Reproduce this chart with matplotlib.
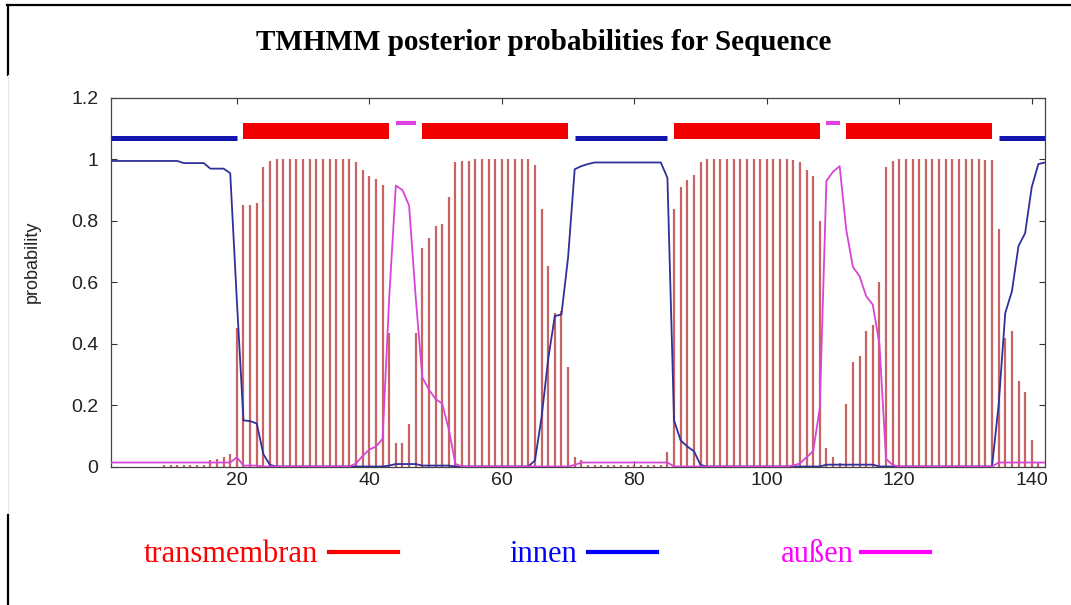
import matplotlib
matplotlib.use('Agg')
import matplotlib.pyplot as plt
from matplotlib.lines import Line2D

# ---------------- data ----------------
residues = list(range(1, 143))

tm_prob = ([0.0] * 8 + [0.005] * 7 +
           [0.02, 0.024, 0.03, 0.042, 0.45] +
           [0.85, 0.85, 0.857, 0.975, 0.995] +
           [1.0] * 12 +
           [0.99, 0.966, 0.946, 0.937, 0.917, 0.435] +
           [0.076, 0.078, 0.14, 0.435] +
           [0.713, 0.743, 0.783, 0.79, 0.878, 0.993, 0.996, 0.996] +
           [1.0] * 9 +
           [0.983, 0.84, 0.652, 0.50, 0.505, 0.325] +
           [0.03, 0.02] +
           [0.005] * 12 +
           [0.047] +
           [0.838, 0.909, 0.934, 0.949, 0.993] +
           [1.0] * 13 +
           [0.997, 0.993, 0.967, 0.945, 0.80] +
           [0.06, 0.03, 0.01] +
           [0.205, 0.34, 0.36, 0.44, 0.46, 0.60] +
           [0.974, 0.994] +
           [1.0] * 13 +
           [0.997, 0.997] +
           [0.772, 0.42, 0.44, 0.28, 0.243, 0.085, 0.01, 0.0])

inside_prob = ([0.995] * 11 + [0.988] * 4 + [0.97] * 3 +
               [0.955, 0.54] +
               [0.15, 0.148, 0.14, 0.04, 0.005] +
               [0.0] * 17 +
               [0.003] + [0.008] * 4 + [0.003] * 5 +
               [0.0] * 12 +
               [0.02, 0.16, 0.35, 0.49, 0.495, 0.68] +
               [0.968, 0.978, 0.985] +
               [0.99] * 11 +
               [0.94, 0.15, 0.085, 0.065, 0.05, 0.005] +
               [0.0] * 18 +
               [0.006] * 8 +
               [0.0] * 18 +
               [0.2, 0.5, 0.57, 0.718, 0.76, 0.91, 0.985, 0.99])

outside_prob = ([0.013] * 19 + [0.03] + [0.003] * 3 + [0.0] * 14 +
                [0.01, 0.035, 0.055, 0.065, 0.09, 0.55] +
                [0.915, 0.90, 0.85, 0.55] +
                [0.29, 0.25, 0.22, 0.205, 0.12, 0.008] +
                [0.0] * 17 +
                [0.005] +
                [0.013] * 13 +
                [0.013] +
                [0.0] * 18 +
                [0.003, 0.01, 0.03, 0.05, 0.19] +
                [0.93, 0.96, 0.978] +
                [0.77, 0.65, 0.62, 0.555, 0.527, 0.40] +
                [0.025, 0.005] +
                [0.0] * 15 +
                [0.013] * 8)

# predicted topology segments (start, end)
tm_segments = [(21, 43), (48, 70), (86, 108), (112, 134)]
inside_segments = [(1, 20), (71, 85), (135, 142)]
outside_segments = [(44, 47), (109, 111)]

x_ticks = [20, 40, 60, 80, 100, 120, 140]
y_ticks = [0, 0.2, 0.4, 0.6, 0.8, 1.0, 1.2]
y_ticklabels = ['0', '0.2', '0.4', '0.6', '0.8', '1', '1.2']

title = 'TMHMM posterior probabilities for Sequence'
legend_items = [('transmembran', '#ff0000'), ('innen', '#0000ff'), ('außen', '#ff00ff')]

# ---------------- figure ----------------
W, H = 1071, 605
fig = plt.figure(figsize=(W / 100, H / 100), dpi=100)
fig.patch.set_facecolor('white')

def fx(px):
    return px / W

def fy(py):
    return 1 - py / H

ax_l, ax_r, ax_t, ax_b = 111, 1045, 98, 466.5
ax = fig.add_axes([fx(ax_l), fy(ax_b), fx(ax_r - ax_l), (ax_b - ax_t) / H])

# impulses for TM probability
ax.vlines(residues, 0, tm_prob, colors='#c86464', linewidth=1.6, zorder=2)
# inside / outside lines
ax.plot(residues, inside_prob, color='#30309a', linewidth=1.3, zorder=3)
ax.plot(residues, outside_prob, color='#d844d8', linewidth=1.3, zorder=3)

# topology bars at top
for s, e in tm_segments:
    ax.broken_barh([(s, e - s)], (1.068, 0.049), facecolors='#f00000', edgecolor='none', zorder=3)
for s, e in inside_segments:
    ax.hlines(1.069, s, e, colors='#1515b0', linewidth=3.6, zorder=3)
for s, e in outside_segments:
    ax.hlines(1.118, s, e, colors='#e040e0', linewidth=3.0, zorder=3)

ax.set_xlim(1, 142)
ax.set_ylim(0, 1.2)
ax.set_xticks(x_ticks)
ax.set_xticklabels([str(t) for t in x_ticks])
ax.set_yticks(y_ticks)
ax.set_yticklabels(y_ticklabels)
ax.tick_params(direction='in', length=4, width=0.8, top=True, right=True,
               labelsize=14, colors='#333333', labelcolor='#222222')
for lab in ax.get_xticklabels() + ax.get_yticklabels():
    lab.set_family('Liberation Sans')
ax.tick_params(axis='y', pad=9)
ax.tick_params(axis='x', pad=4)
for sp in ax.spines.values():
    sp.set_color('#444444')
    sp.set_linewidth(0.9)

fig.text(fx(32), fy(262), 'probability', rotation=90, ha='center', va='center',
         fontsize=13, family='Liberation Sans', color='#222222')

# title
fig.text(fx(544), fy(50), title, ha='center', va='baseline',
         fontsize=21, fontweight='bold', family='Liberation Serif', color='black')

# legend
legend_pos = [(144, 329, 398), (509, 588, 657), (781, 861, 930)]
for (label, col), (tx, l0, l1) in zip(legend_items, legend_pos):
    fig.text(fx(tx), fy(561.5), label, ha='left', va='baseline',
             fontsize=22, family='Liberation Serif', color=col)
    fig.add_artist(Line2D([fx(l0), fx(l1)], [fy(551.7), fy(551.7)],
                          color=col, linewidth=3, transform=fig.transFigure))

# outer frame fragments
fig.add_artist(Line2D([fx(7), fx(1071)], [fy(5), fy(5)], color='black', linewidth=1.6,
                      transform=fig.transFigure))
fig.add_artist(Line2D([fx(8), fx(8)], [fy(5), fy(75)], color='black', linewidth=1.6,
                      transform=fig.transFigure))
fig.add_artist(Line2D([fx(8), fx(8)], [fy(75), fy(515)], color='#e4e4e4', linewidth=0.8,
                      transform=fig.transFigure))
fig.add_artist(Line2D([fx(8), fx(8)], [fy(515), fy(605)], color='black', linewidth=1.6,
                      transform=fig.transFigure))

fig.savefig('out.png', dpi=100, facecolor='white')
